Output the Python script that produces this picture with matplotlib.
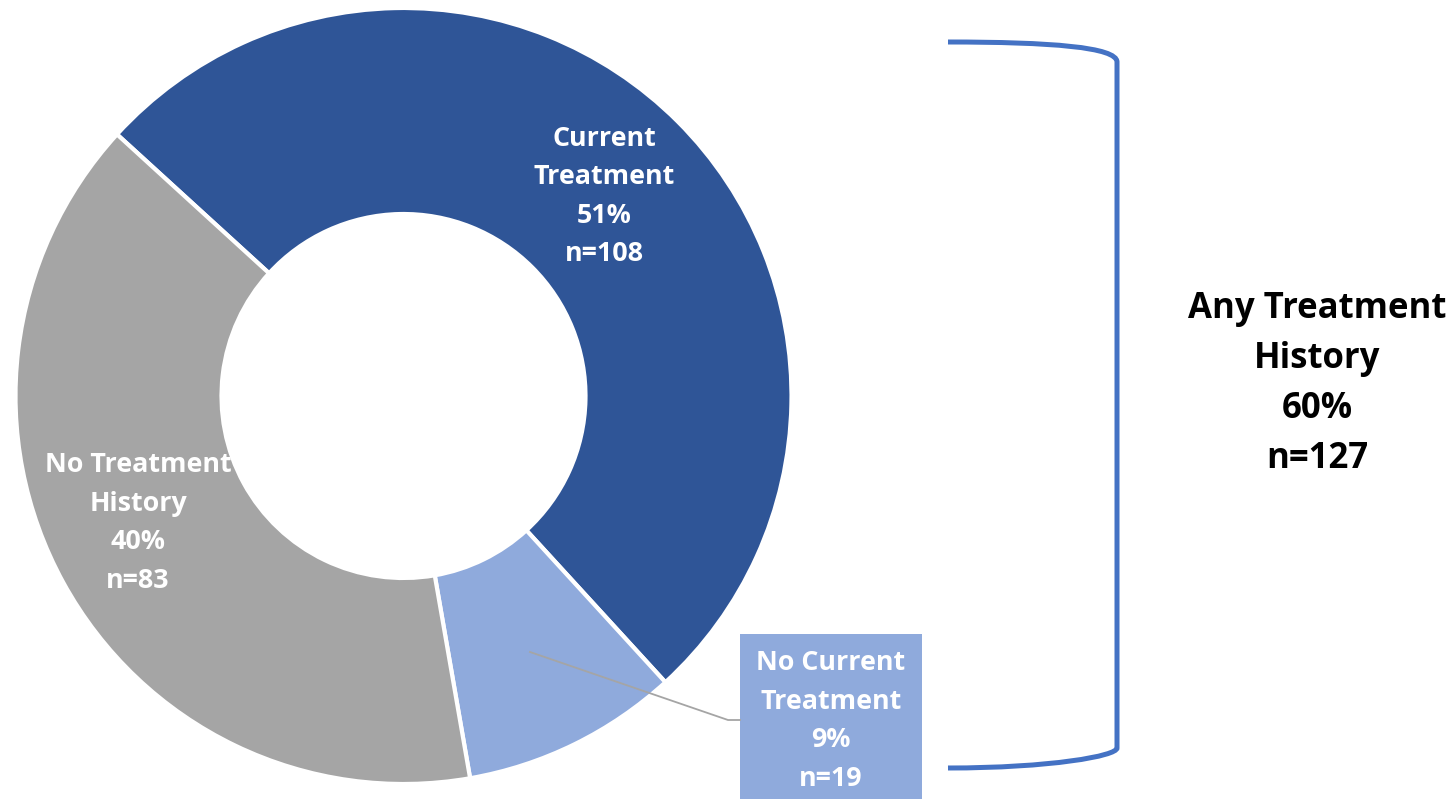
import numpy as np
import matplotlib
matplotlib.use('Agg')
import matplotlib.pyplot as plt
from matplotlib.path import Path
from matplotlib.patches import PathPatch, Rectangle

plt.rcParams['font.family'] = ['Open Sans', 'DejaVu Sans']

# data
groups = ['Current\nTreatment', 'No Current\nTreatment', 'No Treatment\nHistory']
counts = [108, 19, 83]
pcts = [51, 9, 40]
colors = ['#2F5597', '#8FAADC', '#A5A5A5']
any_label = 'Any Treatment\nHistory'
any_pct = 60
any_n = 127

W, H = 1455, 799
fig = plt.figure(figsize=(W / 100, H / 100), dpi=100)
ax = fig.add_axes([0, 0, 1, 1])

cx, cy = 403.5, H - 396
r_out, r_in = 388, 182
wedges, _ = ax.pie(counts, colors=colors, center=(cx, cy), radius=r_out,
                   startangle=137.6, counterclock=False,
                   wedgeprops=dict(width=r_out - r_in, edgecolor='white', linewidth=3))

ax.set_xlim(0, W)
ax.set_ylim(0, H)
ax.set_aspect('auto')
ax.axis('off')

def lab(i):
    return '%s\n%d%%\nn=%d' % (groups[i], pcts[i], counts[i])

fs = 19.4
ls = 1.63
ax.text(604, H - 196.5, lab(0), color='white', fontsize=fs, fontweight='bold',
        ha='center', va='center', linespacing=ls)
ax.text(138, H - 523, lab(2), color='white', fontsize=fs, fontweight='bold',
        ha='center', va='center', linespacing=ls)

# callout box for the small slice
ax.add_patch(Rectangle((740, 0), 182, H - 634, facecolor=colors[1], edgecolor='none'))
ax.text(831, H - 721, lab(1), color='white', fontsize=fs, fontweight='bold',
        ha='center', va='center', linespacing=ls)
ax.plot([530, 728, 740], [H - 652, H - 720, H - 720], color='#A5A5A5', lw=1.3)

# bracket
verts = [(948, H - 42), (1050, H - 42), (1117, H - 47), (1117, H - 62),
         (1117, H - 748),
         (1117, H - 756), (1050, H - 768), (948, H - 768)]
codes = [Path.MOVETO, Path.CURVE4, Path.CURVE4, Path.CURVE4,
         Path.LINETO,
         Path.CURVE4, Path.CURVE4, Path.CURVE4]
ax.add_patch(PathPatch(Path(verts, codes), facecolor='none', edgecolor='#4472C4', lw=3.6))

ax.text(1317, H - 384, '%s\n%d%%\nn=%d' % (any_label, any_pct, any_n), color='black',
        fontsize=25, fontweight='bold', ha='center', va='center', linespacing=1.52)

fig.savefig('out.png', dpi=100)
